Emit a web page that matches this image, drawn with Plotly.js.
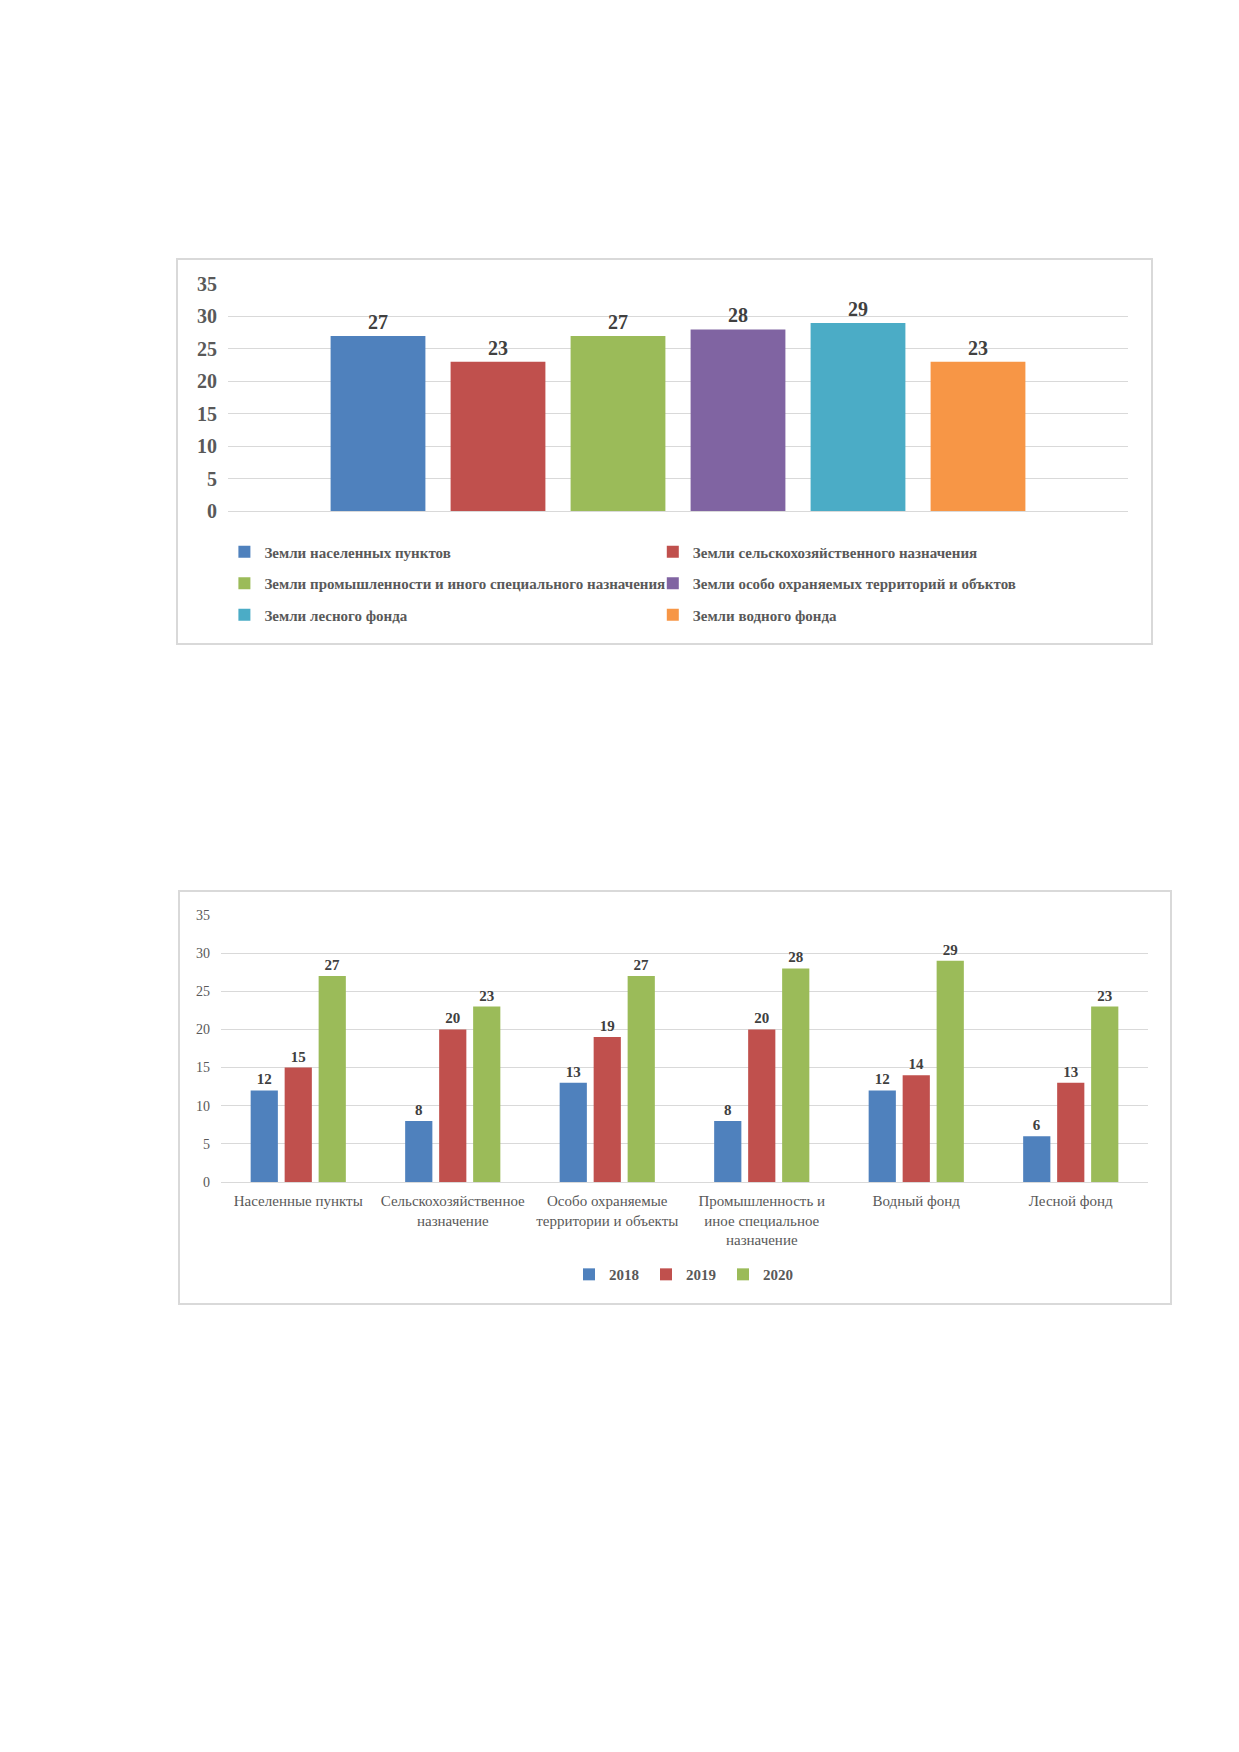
<!DOCTYPE html>
<html>
<head>
<meta charset="utf-8">
<script src="https://cdn.plot.ly/plotly-3.0.1.min.js"></script>
<style>
  body { margin: 0; background: #fff; width: 1239px; height: 1752px; position: relative; }
  .box { position: absolute; border: 2px solid #d9d9d9; box-sizing: border-box; background: #fff; }
  #top-chart { left: 176px; top: 258px; width: 977px; height: 387px; }
  #bottom-chart { left: 178px; top: 890px; width: 994px; height: 415px; }
</style>
</head>
<body>
<div id="top-chart" class="box"></div>
<div id="bottom-chart" class="box"></div>
<script>
// top chart: one category, six land types
const landTypes = [
    'Земли населенных пунктов',
    'Земли сельскохозяйственного назначения',
    'Земли промышленности и иного специального назначения',
    'Земли особо охраняемых территорий и объктов',
    'Земли лесного фонда',
    'Земли водного фонда'
];
const landValues = [27, 23, 27, 28, 29, 23];
const landColors = ['#4F81BD', '#C0504D', '#9BBB59', '#8064A2', '#4BACC6', '#F79646'];
const topCategory = ['Всего'];

// bottom chart: land categories by year
const categories = [
    'Населенные пункты',
    'Сельскохозяйственное<br>назначение',
    'Особо охраняемые<br>территории и объекты',
    'Промышленность и<br>иное специальное<br>назначение',
    'Водный фонд',
    'Лесной фонд'
];
const years = ['2018', '2019', '2020'];
const values2018 = [12, 8, 13, 8, 12, 6];
const values2019 = [15, 20, 19, 20, 14, 13];
const values2020 = [27, 23, 27, 28, 29, 23];
const yearColors = ['#4F81BD', '#C0504D', '#9BBB59'];

const serif = 'Liberation Serif, Times New Roman, serif';
const gridColor = '#d9d9d9';

function renderTopChart() {
    // two legend columns: left gets items 0,2,4, right gets 1,3,5
    const traces = landTypes.map((name, i) => ({
        type: 'bar',
        x: topCategory,
        y: [landValues[i]],
        name: name,
        legend: i % 2 === 0 ? 'legend' : 'legend2',
        legendgroup: 'g' + i,
        marker: { color: landColors[i] },
        text: [String(landValues[i])],
        textposition: 'outside',
        cliponaxis: false,
        textfont: { family: serif, size: 20, color: '#404040', weight: 'bold' },
        hoverinfo: 'skip'
    }));

    const legendBase = {
        orientation: 'v',
        yanchor: 'top',
        y: -0.108,
        xanchor: 'left',
        tracegroupgap: 9,
        itemwidth: 30,
        bgcolor: 'rgba(0,0,0,0)',
        font: { family: serif, size: 15, color: '#595959', weight: 'bold' }
    };

    const layout = {
        width: 973,
        height: 383,
        margin: { l: 50, r: 23, t: 24, b: 112 },
        paper_bgcolor: '#fff',
        plot_bgcolor: '#fff',
        barmode: 'group',
        bargap: 0.2,
        bargroupgap: 0.21,
        showlegend: true,
        legend: Object.assign({}, legendBase, { x: -0.004 }),
        legend2: Object.assign({}, legendBase, { x: 0.472 }),
        xaxis: { showticklabels: false, showgrid: false, zeroline: false, showline: false },
        yaxis: {
            range: [0, 35],
            dtick: 5,
            showgrid: true,
            gridcolor: gridColor,
            gridwidth: 1,
            zeroline: true,
            zerolinecolor: gridColor,
            zerolinewidth: 1,
            ticks: '',
            ticklabelstandoff: 10,
            tickfont: { family: serif, size: 20, color: '#595959', weight: 'bold' }
        }
    };

    Plotly.newPlot('top-chart', traces, layout, { staticPlot: true });
}

function renderBottomChart() {
    const series = [values2018, values2019, values2020];
    const traces = years.map((year, i) => ({
        type: 'bar',
        x: categories,
        y: series[i],
        name: year,
        marker: { color: yearColors[i] },
        text: series[i].map(String),
        textposition: 'outside',
        cliponaxis: false,
        textfont: { family: serif, size: 15, color: '#404040', weight: 'bold' },
        hoverinfo: 'skip'
    }));

    const layout = {
        width: 990,
        height: 411,
        margin: { l: 41, r: 22, t: 23, b: 115 },
        paper_bgcolor: '#fff',
        plot_bgcolor: '#fff',
        barmode: 'group',
        bargap: 0.34,
        bargroupgap: 0.2,
        showlegend: true,
        legend: {
            orientation: 'h',
            xanchor: 'center',
            x: 0.5,
            yanchor: 'top',
            y: -0.285,
            itemwidth: 30,
            entrywidth: 32,
            entrywidthmode: 'pixels',
            font: { family: serif, size: 15, color: '#595959', weight: 'bold' }
        },
        xaxis: {
            showgrid: false,
            zeroline: false,
            showline: false,
            ticks: '',
            tickangle: 0,
            ticklabelstandoff: 8,
            tickfont: { family: serif, size: 15, color: '#595959' }
        },
        yaxis: {
            range: [0, 35],
            dtick: 5,
            showgrid: true,
            gridcolor: gridColor,
            gridwidth: 1,
            zeroline: true,
            zerolinecolor: gridColor,
            zerolinewidth: 1,
            ticks: '',
            ticklabelstandoff: 10,
            tickfont: { family: serif, size: 14, color: '#595959' }
        }
    };

    Plotly.newPlot('bottom-chart', traces, layout, { staticPlot: true });
}

renderTopChart();
renderBottomChart();
</script>
</body>
</html>
